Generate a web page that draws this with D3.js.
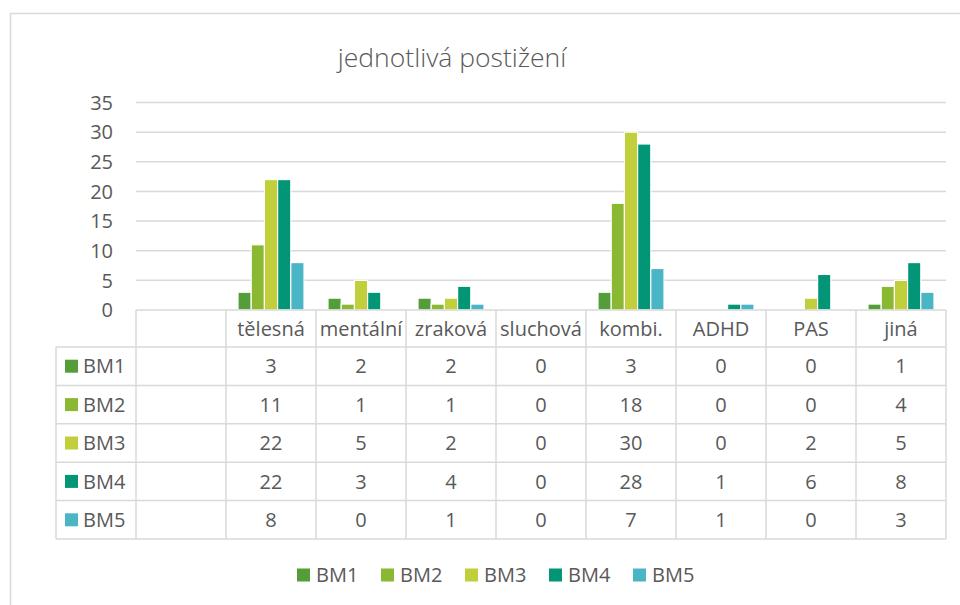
<!DOCTYPE html>
<html>
<head>
<meta charset="utf-8">
<script src="https://cdn.jsdelivr.net/npm/d3@7"></script>
<style>
    body { margin: 0; background: #fff; }
    text { font-family: "Open Sans", sans-serif; fill: #595959; }
</style>
</head>
<body>
<div id="chart"></div>
<script>
// data
var categories = ["", "tělesná", "mentální", "zraková", "sluchová", "kombi.", "ADHD", "PAS", "jiná"];
var seriesNames = ["BM1", "BM2", "BM3", "BM4", "BM5"];
var bm1 = [null, 3, 2, 2, 0, 3, 0, 0, 1];
var bm2 = [null, 11, 1, 1, 0, 18, 0, 0, 4];
var bm3 = [null, 22, 5, 2, 0, 30, 0, 2, 5];
var bm4 = [null, 22, 3, 4, 0, 28, 1, 6, 8];
var bm5 = [null, 8, 0, 1, 0, 7, 1, 0, 3];
var yTicks = [0, 5, 10, 15, 20, 25, 30, 35];
var seriesColors = ["#549e39", "#8ab833", "#c0cf3a", "#029676", "#4ab5c4"];

var seriesValues = [bm1, bm2, bm3, bm4, bm5];

var width = 960, height = 605;
var gridColor = "#d9d9d9";

// plot area + table geometry
var plotLeft = 136, plotRight = 946, plotTop = 102.5, plotBottom = 310;
var tableLeft = 56, headerBottom = 347, rowHeight = 38.4;

var svg = d3.select("#chart").append("svg")
    .attr("width", width).attr("height", height);

// outer chart frame
svg.append("rect")
    .attr("x", 10.5).attr("y", 13.5)
    .attr("width", 1000).attr("height", 700)
    .attr("fill", "none").attr("stroke", gridColor).attr("stroke-width", 1.5);

var x = d3.scaleBand().domain(d3.range(categories.length)).range([plotLeft, plotRight]).padding(0);
var y = d3.scaleLinear().domain([0, 35]).range([plotBottom, plotTop]);
var inner = d3.scaleBand().domain(d3.range(seriesNames.length))
    .range([12, x.bandwidth() - 12]).padding(0);
var color = d3.scaleOrdinal().domain(seriesNames).range(seriesColors);

// title
svg.append("text")
    .attr("x", 452).attr("y", 67)
    .attr("text-anchor", "middle")
    .style("font-size", "26.5px").style("font-weight", 300)
    .text("jednotlivá postižení");

// gridlines
svg.append("g").selectAll("line").data(yTicks.filter(d => d > 0)).enter().append("line")
    .attr("x1", plotLeft).attr("x2", plotRight)
    .attr("y1", d => y(d)).attr("y2", d => y(d))
    .attr("stroke", gridColor).attr("stroke-width", 1.5);

// y axis labels
svg.append("g").selectAll("text").data(yTicks).enter().append("text")
    .attr("x", 113).attr("y", d => y(d))
    .attr("dy", "0.36em")
    .attr("text-anchor", "end")
    .style("font-size", "20px")
    .text(d => d);

// bars
seriesValues.forEach((vals, s) => {
    svg.append("g").selectAll("rect")
        .data(vals.map((v, i) => ({i: i, v: v})).filter(d => d.v))
        .enter().append("rect")
        .attr("x", d => x(d.i) + inner(s))
        .attr("y", d => y(d.v))
        .attr("width", inner.bandwidth())
        .attr("height", d => y(0) - y(d.v))
        .attr("fill", seriesColors[s])
        .attr("stroke", "#fff").attr("stroke-width", 1.2);
});

// data table
var tableBottom = headerBottom + rowHeight * seriesNames.length;
var table = svg.append("g").attr("stroke", gridColor).attr("stroke-width", 1.5);

// horizontal lines
table.append("line")
    .attr("x1", plotLeft).attr("x2", plotRight)
    .attr("y1", plotBottom).attr("y2", plotBottom);
d3.range(seriesNames.length + 1).forEach(r => {
    var yy = headerBottom + r * rowHeight;
    table.append("line")
        .attr("x1", tableLeft).attr("x2", plotRight)
        .attr("y1", yy).attr("y2", yy);
});

// vertical lines
table.append("line")
    .attr("x1", tableLeft).attr("x2", tableLeft)
    .attr("y1", headerBottom).attr("y2", tableBottom);
d3.range(categories.length + 1).forEach(c => {
    var xx = plotLeft + c * x.bandwidth();
    table.append("line")
        .attr("x1", xx).attr("x2", xx)
        .attr("y1", plotBottom).attr("y2", tableBottom);
});

// header labels
svg.append("g").selectAll("text").data(categories).enter().append("text")
    .attr("x", (d, i) => x(i) + x.bandwidth() / 2)
    .attr("y", (plotBottom + headerBottom) / 2)
    .attr("dy", "0.36em")
    .attr("text-anchor", "middle")
    .style("font-size", "20px")
    .text(d => d);

// rows
seriesNames.forEach((name, s) => {
    var cy = headerBottom + s * rowHeight + rowHeight / 2;
    svg.append("rect")
        .attr("x", 65).attr("y", cy - 6.5)
        .attr("width", 13).attr("height", 13)
        .attr("fill", color(name));
    svg.append("text")
        .attr("x", 83).attr("y", cy).attr("dy", "0.36em")
        .style("font-size", "20px")
        .text(name);
    svg.append("g").selectAll("text")
        .data(seriesValues[s].map((v, i) => ({i: i, v: v})).filter(d => d.v !== null))
        .enter().append("text")
        .attr("x", d => x(d.i) + x.bandwidth() / 2)
        .attr("y", cy).attr("dy", "0.36em")
        .attr("text-anchor", "middle")
        .style("font-size", "20px")
        .text(d => d.v);
});

// legend
var legend = svg.append("g").attr("transform", "translate(297,575)");
var legendItem = legend.selectAll("g").data(seriesNames).enter().append("g")
    .attr("transform", (d, i) => "translate(" + (i * 84) + ",0)");
legendItem.append("rect")
    .attr("x", 0).attr("y", -6.5)
    .attr("width", 13).attr("height", 13)
    .attr("fill", d => color(d));
legendItem.append("text")
    .attr("x", 19).attr("y", 0).attr("dy", "0.36em")
    .style("font-size", "20px")
    .text(d => d);
</script>
</body>
</html>
